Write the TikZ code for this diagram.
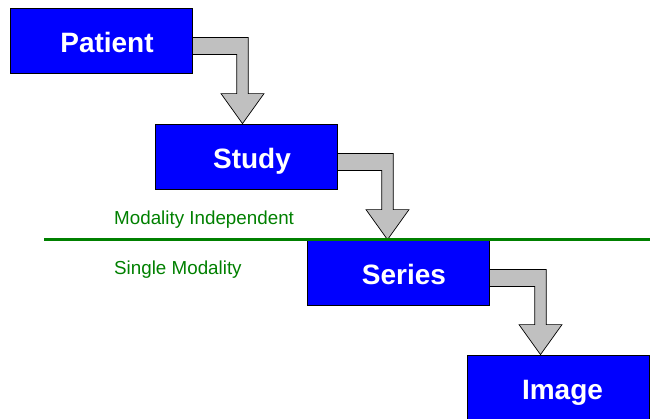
\documentclass[tikz,border=0pt]{standalone}
\usepackage{fontspec}
\setmainfont{Liberation Sans}
\usetikzlibrary{calc}
\definecolor{boxblue}{RGB}{0,0,255}
\definecolor{arrowgray}{RGB}{192,192,192}
\definecolor{linegreen}{RGB}{0,128,0}
\tikzset{
  entity/.style={draw=black, line width=0.8pt, fill=boxblue, minimum width=182pt, minimum height=65pt,
    inner sep=0pt, text height=23pt, text depth=0pt, text=white, font=\fontsize{28}{30}\selectfont\bfseries},
  bentarrow/.style={draw=black, line width=0.7pt, fill=arrowgray, line join=miter},
  zonelabel/.style={anchor=west, text=linegreen, font=\fontsize{18.8}{21}\selectfont, inner sep=0pt},
  divider/.style={draw=linegreen, line width=3pt},
}
% #1 from node, #2 to node, #3 x of the arrow tip (in pt)
\newcommand{\elbowarrow}[3]{%
  \path[bentarrow] let \p1=(#1.east), \p2=(#1.center), \p3=(#2.north) in
    (\x1,\y2+3pt) -- (#3pt+5.75pt,\y2+3pt) -- (#3pt+5.75pt,\y3+30pt) -- (#3pt+21.5pt,\y3+30pt)
    -- (#3pt,\y3) -- (#3pt-21.5pt,\y3+30pt) -- (#3pt-5.75pt,\y3+30pt) -- (#3pt-5.75pt,\y2-14pt)
    -- (\x1,\y2-14pt) -- cycle;%
}
\begin{document}
\begin{tikzpicture}[x=1pt,y=-1pt]
\useasboundingbox (0,0) rectangle (650,418);
\clip (0,0) rectangle (650,418);
\node[entity] (patient) at (101,40.5) {\hspace*{12pt}Patient};
\node[entity] (study) at (246,156.5) {\hspace*{12pt}Study};
\node[entity] (series) at (398,272.5) {\hspace*{12pt}Series};
\node[entity] (image) at (558,387.5) {\hspace*{9pt}Image};
\elbowarrow{patient}{study}{242.5}
\elbowarrow{study}{series}{387.5}
\elbowarrow{series}{image}{540.5}
\coordinate (divL) at (44,239);
\coordinate (divR) at (650,239);
\draw[divider] (divL) -- (divR);
\node[zonelabel] (indep) at (114,220) {Modality Independent};
\node[zonelabel] (single) at (114,270) {Single Modality};
\end{tikzpicture}
\end{document}
